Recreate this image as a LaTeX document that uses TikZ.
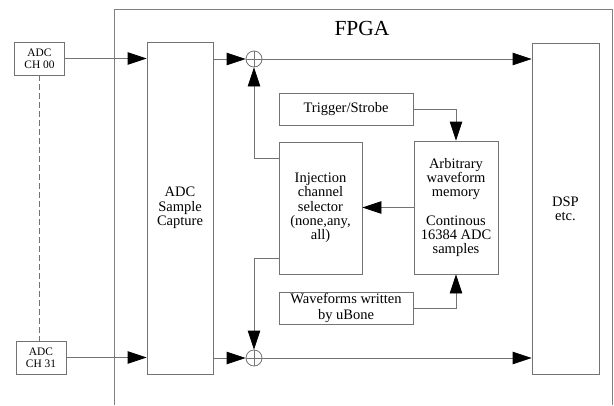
\documentclass[tikz,border=0pt]{standalone}
\usepackage{fontspec}
\setmainfont{Liberation Serif}
\usetikzlibrary{arrows.meta}
\definecolor{linegray}{gray}{0.45}
\definecolor{framegray}{gray}{0.5}
\begin{document}
\begin{tikzpicture}[x=1pt,y=1pt,>={Triangle[length=19pt,width=12.5pt,color=black]}]
		\tikzstyle{every node}+=[inner sep=0pt]
		\tikzstyle{block}=[draw=linegray,line width=0.8pt,rectangle,align=center,font=\fontsize{14.5}{14.3}\selectfont]
		\tikzstyle{adcbox}=[block,minimum width=50pt,minimum height=33pt,font=\fontsize{11.4}{12.4}\selectfont]
		\tikzstyle{summer}=[draw=linegray,line width=0.8pt,circle,minimum size=16pt]
		\tikzstyle{link}=[draw=linegray,line width=0.8pt]
		\useasboundingbox (0,0) rectangle (614,-405);
		\draw [framegray,line width=0.8pt] (114,-405) -- (114,-9) -- (612,-9) -- (612,-405);
		\draw (362,-28) node [font=\fontsize{21.5}{24}\selectfont] {FPGA};
		\node [adcbox] (adcA) at (39.5,-58.5) {ADC\\CH 00};
		\node [adcbox] (adcB) at (41,-357.5) {ADC\\CH 31};
		\node [block,minimum width=66pt,minimum height=332pt] (capture) at (180,-208) {ADC\\Sample\\Capture};
		\node [summer] (sumA) at (254,-59) {};
		\node [summer] (sumB) at (254,-358) {};
		\node [block,minimum width=67pt,minimum height=331pt] (dsp) at (565.5,-208.5) {DSP\\etc.};
		\node [block,minimum width=134pt,minimum height=32pt] (trig) at (346,-109) {Trigger/Strobe};
		\node [block,minimum width=84pt,minimum height=133pt] (awm) at (456,-207.5) {Arbitrary\\waveform\\memory\\[14.3pt]Continous\\16384 ADC\\samples};
		\node [block,minimum width=83pt,minimum height=132pt] (sel) at (320.5,-208) {Injection\\channel\\selector\\(none,any,\\all)};
		\node [block,minimum width=134pt,minimum height=32pt,font=\fontsize{14.5}{15.5}\selectfont] (wfw) at (346,-308) {Waveforms written\\by uBone};
		% ADC channels
		\draw [link,dash pattern=on 6pt off 3pt] (adcA.south) -- (adcA.south |- adcB.north);
		\draw [link,->] (adcA.east) -- (adcA.east -| capture.west);
		\draw [link,->] (adcB.east) -- (adcB.east -| capture.west);
		\draw [link,->] (capture.east |- sumA) -- (sumA.west);
		\draw [link,->] (capture.east |- sumB) -- (sumB.west);
		\draw [link] (sumA.north) -- (sumA.south) (sumA.west) -- (sumA.east);
		\draw [link] (sumB.north) -- (sumB.south) (sumB.west) -- (sumB.east);
		\draw [link,->] (sumA.east) -- (sumA.east -| dsp.west);
		\draw [link,->] (sumB.east) -- (sumB.east -| dsp.west);
		% injection path
		\draw [link,->] (trig.east) -| (awm.north);
		\draw [link,->] (wfw.east) -| (awm.south);
		\draw [link,->] (awm.west) -- (awm.west -| sel.east);
		\draw [link,->] ([yshift=50pt]sel.west) -| (sumA.south);
		\draw [link,->] ([yshift=-50pt]sel.west) -| (sumB.north);
\end{tikzpicture}
\end{document}
